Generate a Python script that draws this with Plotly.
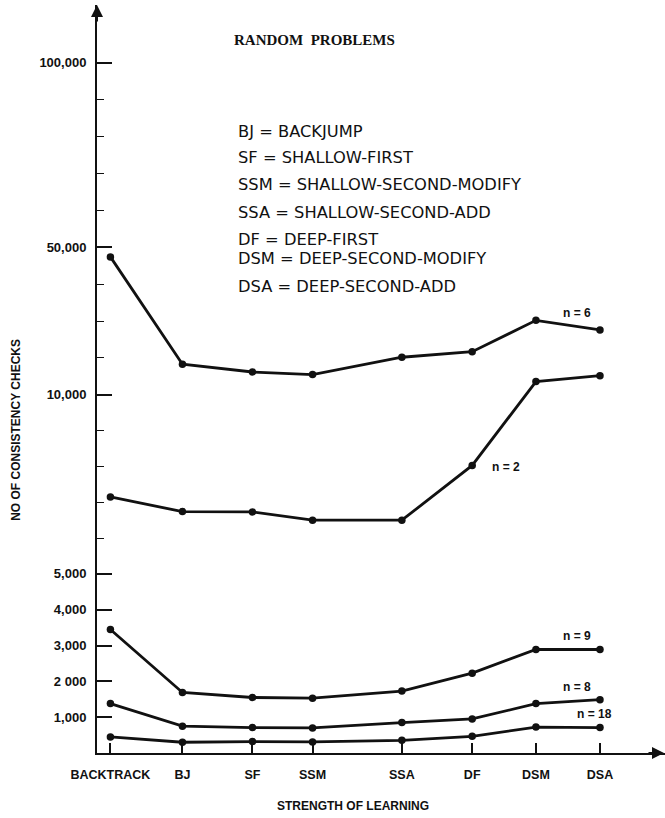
import plotly.graph_objects as go

# ---------------- data ----------------
categories = ["BACKTRACK", "BJ", "SF", "SSM", "SSA", "DF", "DSM", "DSA"]
x_positions = [0.0, 1.0, 1.972, 2.806, 4.046, 5.022, 5.907, 6.796]

series_names = ["n = 6", "n = 2", "n = 9", "n = 8", "n = 18"]
n6 = [47400, 18300, 16200, 15500, 20200, 21700, 30200, 27600]
n2 = [7150, 6740, 6730, 6500, 6500, 8030, 13600, 15200]
n9 = [3450, 1690, 1550, 1530, 1730, 2230, 2890, 2890]
n8 = [1380, 750, 710, 700, 850, 950, 1380, 1490]
n18 = [450, 300, 320, 310, 355, 465, 725, 710]

major_ticks = [1000, 2000, 3000, 4000, 5000, 10000, 50000, 100000]
major_labels = ["1,000", "2 000", "3,000", "4,000", "5,000", "10,000", "50,000", "100,000"]
minor_ticks = [6000, 7000, 8000, 9000, 20000, 30000, 40000, 60000, 70000, 80000, 90000]

legend_lines = [
    "BJ = BACKJUMP",
    "SF = SHALLOW-FIRST",
    "SSM = SHALLOW-SECOND-MODIFY",
    "SSA = SHALLOW-SECOND-ADD",
    "DF = DEEP-FIRST",
    "DSM = DEEP-SECOND-MODIFY",
    "DSA = DEEP-SECOND-ADD",
]

# broken scale of the original: linear up to 10,000, then compressed 10x
def scale(v):
    if v <= 10000:
        return v / 1000.0
    return 10.0 + (v - 10000) / 10000.0 * 1.03

# ---------------- layout helpers (pixel -> paper) ----------------
W, H = 665, 818
L, R, T, B = 97.3, 0, 5, 65.3
PW, PH = W - L - R, H - T - B

def px(x):
    return (x - L) / PW

def py(y):
    return (H - B - y) / PH

fig = go.Figure()
all_series = [n6, n2, n9, n8, n18]
for name, vals in zip(series_names, all_series):
    fig.add_trace(go.Scatter(
        x=x_positions, y=[scale(v) for v in vals], name=name,
        mode="lines+markers",
        line=dict(color="#111111", width=2.8),
        marker=dict(color="#111111", size=7.5),
        cliponaxis=False,
    ))

annotations = []
# title
annotations.append(dict(x=px(315), y=py(40), xref="paper", yref="paper",
                        text="<b>RANDOM  PROBLEMS</b>", showarrow=False,
                        font=dict(family="Liberation Serif", size=15, color="#111"),
                        xanchor="center", yanchor="middle"))
# legend text block
legend_y = [131, 157.7, 184.4, 212.5, 239.3, 258.7, 286.7]
for txt, yy in zip(legend_lines, legend_y):
    annotations.append(dict(x=px(236), y=py(yy), xref="paper", yref="paper",
                            text=txt, showarrow=False,
                            font=dict(family="DejaVu Sans", size=16.3, color="#111"),
                            xanchor="left", yanchor="middle"))
# series labels
label_pos = [(577, 313), (506, 467), (577, 636), (577, 687), (595, 714)]
for name, (lx, ly) in zip(series_names, label_pos):
    annotations.append(dict(x=px(lx), y=py(ly), xref="paper", yref="paper",
                            text="<b>%s</b>" % name, showarrow=False,
                            font=dict(family="Liberation Sans", size=12, color="#111"),
                            xanchor="center", yanchor="middle"))
# axis titles
annotations.append(dict(x=px(353), y=py(806), xref="paper", yref="paper",
                        text="<b>STRENGTH OF LEARNING</b>", showarrow=False,
                        font=dict(family="Liberation Sans", size=12, color="#111"),
                        xanchor="center", yanchor="middle"))
annotations.append(dict(x=px(17), y=py(430), xref="paper", yref="paper",
                        text="<b>NO OF CONSISTENCY CHECKS</b>", showarrow=False,
                        textangle=-90,
                        font=dict(family="Liberation Sans", size=12, color="#111"),
                        xanchor="center", yanchor="middle"))
# axis arrows
annotations.append(dict(x=0, y=1, xref="paper", yref="paper", ax=0, ay=18,
                        text="", showarrow=True,
                        arrowhead=2, arrowsize=1.2, arrowwidth=2, arrowcolor="#111"))
annotations.append(dict(x=1, y=0, xref="paper", yref="paper", ax=-18, ay=0,
                        text="", showarrow=True,
                        arrowhead=2, arrowsize=1.2, arrowwidth=2, arrowcolor="#111"))

x_left = (L - 110.7) / 72.0
x_right = x_left + PW / 72.0
y_top = PH / 35.8

fig.update_layout(
    width=W, height=H,
    margin=dict(l=L, r=R, t=T, b=B, pad=0),
    paper_bgcolor="white", plot_bgcolor="white",
    showlegend=False,
    annotations=annotations,
    xaxis=dict(
        range=[x_left, x_right], tickmode="array",
        tickvals=x_positions, ticktext=categories,
        showline=True, linecolor="#111", linewidth=2,
        ticks="inside", ticklen=10, tickwidth=1.5, tickcolor="#111",
        showgrid=False, zeroline=False,
        tickfont=dict(family="Liberation Sans", size=12.5, color="#111", weight="bold"),
        ticklabelstandoff=9,
    ),
    yaxis=dict(
        range=[0, y_top], tickmode="array",
        tickvals=[scale(v) for v in major_ticks], ticktext=major_labels,
        showline=True, linecolor="#111", linewidth=2,
        ticks="inside", ticklen=15, tickwidth=1.5, tickcolor="#111",
        minor=dict(tickmode="array", tickvals=[scale(v) for v in minor_ticks],
                   ticks="inside", ticklen=7, tickwidth=1.3, tickcolor="#111",
                   showgrid=False),
        showgrid=False, zeroline=False,
        tickfont=dict(family="Liberation Sans", size=13, color="#111", weight="bold"),
        ticklabelstandoff=6,
    ),
)

fig.write_html("out.html")
